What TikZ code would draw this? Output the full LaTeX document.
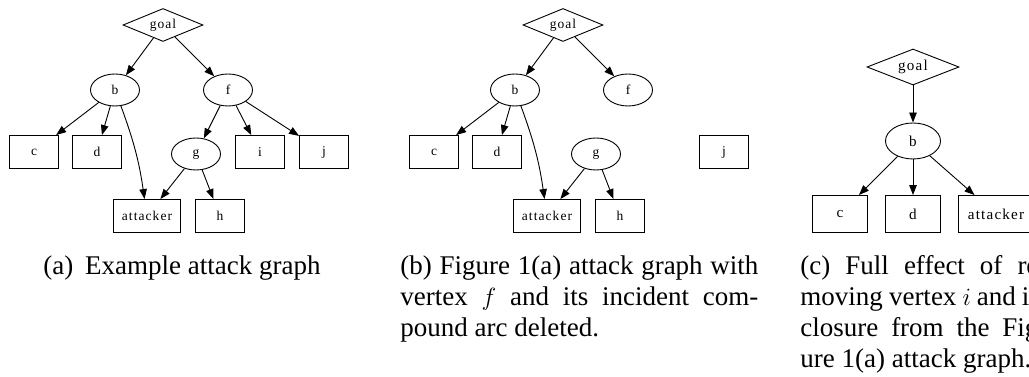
\documentclass[tikz,border=0pt]{standalone}
\usepackage{fontspec}
\setmainfont{Liberation Serif}
\newfontfamily\spacedserif[LetterSpace=8]{Liberation Serif}
\usetikzlibrary{positioning,shapes.geometric,arrows.meta}

\newcommand{\graphfont}{\spacedserif\fontsize{13.5}{16}\selectfont}
\newcommand{\biggraphfont}{\spacedserif\fontsize{15.1}{18}\selectfont}
\newcommand{\capfont}{\fontsize{27}{31}\selectfont}

\begin{document}
\begin{tikzpicture}[x=1pt, y=1pt, on grid, line width=0.9pt, font=\graphfont]

        % Styles
        \tikzstyle{goalnode} = [draw, diamond, aspect=2.4, minimum width=80pt, minimum height=33pt, inner sep=0pt]
        \tikzstyle{vertex} = [draw, ellipse, minimum width=49pt, minimum height=32pt, inner sep=0pt]
        \tikzstyle{leaf} = [draw, rectangle, minimum width=49pt, minimum height=33pt, inner sep=0pt]
        \tikzstyle{arrow} = [-{Triangle[length=10pt, width=7.5pt]}]
        \tikzstyle{caption} = [inner sep=0pt, anchor=base west, font=\capfont, align=justify]

        \useasboundingbox (0,0) rectangle (1029,377);

        % (a) Example attack graph
        \node [goalnode] (goal1) at (163,352) {goal};
        \node [vertex, below left=65pt and 48pt of goal1] (b1) {b};
        \node [vertex, below right=65pt and 65pt of goal1] (f1) {f};
        \node [leaf, below left=62pt and 81pt of b1] (c1) {c};
        \node [leaf, below left=62pt and 18pt of b1] (d1) {d};
        \node [vertex, below left=64pt and 32pt of f1] (g1) {g};
        \node [leaf, below right=62pt and 32pt of f1] (i1) {i};
        \node [leaf, below right=62pt and 96pt of f1] (j1) {j};
        \node [leaf, minimum width=67pt, below left=62pt and 49pt of g1] (attacker1) {attacker};
        \node [leaf, below right=62pt and 24pt of g1] (h1) {h};

        \draw[arrow] (goal1) -- (b1);
        \draw[arrow] (goal1) -- (f1);
        \draw[arrow] (b1) -- (c1);
        \draw[arrow] (b1) -- (d1);
        \draw[arrow] (b1) to[bend left=6] (attacker1);
        \draw[arrow] (f1) -- (g1);
        \draw[arrow] (f1) -- (i1);
        \draw[arrow] (f1) -- (j1);
        \draw[arrow] (g1) -- (attacker1);
        \draw[arrow] (g1) -- (h1);

        % (b) f and its compound arc deleted
        \begin{scope}[xshift=400pt]
        \node [goalnode] (goal2) at (163,352) {goal};
        \node [vertex, below left=65pt and 48pt of goal2] (b2) {b};
        \node [vertex, below right=65pt and 65pt of goal2] (f2) {f};
        \node [leaf, below left=62pt and 81pt of b2] (c2) {c};
        \node [leaf, below left=62pt and 18pt of b2] (d2) {d};
        \node [vertex, below left=64pt and 32pt of f2] (g2) {g};
        \node [leaf, below right=62pt and 96pt of f2] (j2) {j};
        \node [leaf, minimum width=67pt, below left=62pt and 49pt of g2] (attacker2) {attacker};
        \node [leaf, below right=62pt and 24pt of g2] (h2) {h};
        \end{scope}

        \draw[arrow] (goal2) -- (b2);
        \draw[arrow] (goal2) -- (f2);
        \draw[arrow] (b2) -- (c2);
        \draw[arrow] (b2) -- (d2);
        \draw[arrow] (b2) to[bend left=6] (attacker2);
        \draw[arrow] (g2) -- (attacker2);
        \draw[arrow] (g2) -- (h2);

        % (c) i and its closure removed
        \begin{scope}[font=\biggraphfont,
            goalnode/.append style={minimum width=92pt, minimum height=36pt},
            vertex/.append style={minimum width=55pt, minimum height=36pt},
            leaf/.append style={minimum width=55pt, minimum height=37pt}]
        \node [goalnode] (goal3) at (913,310) {goal};
        \node [vertex, below=74pt of goal3] (b3) {b};
        \node [leaf, below left=73pt and 73pt of b3] (c3) {c};
        \node [leaf, below=73pt of b3] (d3) {d};
        \node [leaf, minimum width=75pt, below right=73pt and 83pt of b3] (attacker3) {attacker};
        \end{scope}

        \draw[arrow] (goal3) -- (b3);
        \draw[arrow] (b3) -- (c3);
        \draw[arrow] (b3) -- (d3);
        \draw[arrow] (b3) -- (attacker3);

        % Captions
        \node [caption] (capa) at (43,102) {(a)\hspace{5pt} Example attack graph};
        \node [caption, text width=358pt] (capb) at (400,102) {(b) Figure 1(a) attack graph with\linebreak vertex $f$ and its incident com-\linebreak pound arc deleted.};
        \node [caption, text width=247pt] (capc) at (800,102) {(c) Full effect of re-\linebreak moving vertex $i$ and its\linebreak closure from the Fig-\linebreak ure 1(a) attack graph.};

\end{tikzpicture}
\end{document}
